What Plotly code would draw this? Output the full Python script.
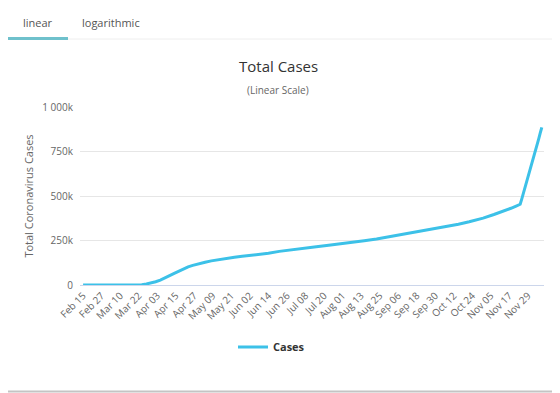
import plotly.graph_objects as go

# ---- data ----
dates = [
    "2020-02-15", "2020-03-10", "2020-03-15", "2020-03-18", "2020-03-21", "2020-03-24",
    "2020-03-27", "2020-03-30", "2020-04-02", "2020-04-05", "2020-04-08", "2020-04-11",
    "2020-04-14", "2020-04-17", "2020-04-20", "2020-04-23", "2020-04-26", "2020-04-30",
    "2020-05-04", "2020-05-08", "2020-05-13", "2020-05-18", "2020-05-23", "2020-05-28",
    "2020-06-02", "2020-06-07", "2020-06-14", "2020-06-21", "2020-06-30", "2020-07-08",
    "2020-07-15", "2020-07-23", "2020-07-31", "2020-08-08", "2020-08-15", "2020-08-23",
    "2020-08-31", "2020-09-07", "2020-09-15", "2020-09-22", "2020-09-30", "2020-10-07",
    "2020-10-15", "2020-10-22", "2020-10-31", "2020-11-07", "2020-11-12", "2020-11-15",
    "2020-11-18", "2020-11-21", "2020-11-24", "2020-11-25", "2020-11-26", "2020-11-27",
    "2020-11-28", "2020-11-29", "2020-11-30", "2020-12-01", "2020-12-02", "2020-12-03",
    "2020-12-04", "2020-12-05", "2020-12-06", "2020-12-07", "2020-12-08",
]
cases = [
    0, 0, 6, 191, 947, 1872,
    5698, 10827, 18135, 27069, 38226, 52167,
    65111, 78546, 90980, 101790, 110130, 120204,
    127659, 135569, 143114, 150593, 155686, 160979,
    165555, 170132, 178239, 188897, 199906, 208938,
    214993, 223315, 230873, 239622, 248117, 258249,
    270133, 281509, 295512, 306302, 318663, 328165,
    341000, 355000, 375367, 396000, 410000, 421413,
    431000, 442000, 453535, 482500, 512000, 542000,
    571500, 600500, 632000, 664500, 697000, 729500,
    760500, 791000, 821000, 854000, 886000,
]
ytick_vals = [0, 250000, 500000, 750000, 1000000]
ytick_text = ["0", "250k", "500k", "750k", "1 000k"]
series_name = "Cases"
title_text = "Total Cases"
subtitle_text = "(Linear Scale)"
ytitle = "Total Coronavirus Cases"
tabs = ["linear", "logarithmic"]

# ---- layout geometry (page pixels; the page body has an 8px margin) ----
OFF = 8
W, H = 560 - OFF, 393 - OFF
L, R, T, B = 80, 544, 107, 285  # plot area in page pixels


def px(x):
    return (x - L) / (R - L)


def py(y):
    return (B - y) / (B - T)


FONT = "Open Sans, Lato, sans-serif"
LINE = "#3cc1e8"

fig = go.Figure()
fig.add_trace(go.Scatter(
    x=dates, y=cases, mode="lines", name=series_name,
    line=dict(color=LINE, width=3),
    showlegend=True,
))

fig.update_layout(
    width=W, height=H,
    margin=dict(l=L - OFF, r=W - (R - OFF), t=T - OFF, b=H - (B - OFF)),
    paper_bgcolor="white", plot_bgcolor="white",
    font=dict(family=FONT, color="#666666", size=10),
    showlegend=True,
    legend=dict(
        orientation="h", x=px(233), xanchor="left", y=py(347), yanchor="middle",
        font=dict(family=FONT, size=11, color="#333333", weight="bold"),
        bgcolor="rgba(0,0,0,0)",
    ),
    xaxis=dict(
        type="date",
        range=["2020-02-13", "2020-12-09 10:00"],
        tick0="2020-02-15", dtick=12 * 86400000,
        tickformat="%b %d", tickangle=-45,
        tickfont=dict(size=10, color="#666666"),
        showgrid=False, zeroline=False,
        showline=True, linecolor="#ccd6eb", linewidth=1,
        ticks="", fixedrange=True,
    ),
    yaxis=dict(
        range=[0, 1000000],
        tickvals=ytick_vals, ticktext=ytick_text,
        tickfont=dict(size=10, color="#666666"),
        ticklabelstandoff=6,
        showgrid=True, gridcolor="#e6e6e6", gridwidth=1,
        zeroline=False, showline=False, ticks="",
        title=dict(text=ytitle, font=dict(size=11, color="#666666"), standoff=6),
        fixedrange=True,
    ),
)


def ann(text, x, y, size, color):
    return dict(text=text, x=px(x), y=py(y), xref="paper", yref="paper",
                xanchor="center", yanchor="middle", showarrow=False,
                font=dict(family=FONT, size=size, color=color))


annotations = [
    ann(title_text, 278, 66, 15, "#333333"),
    ann(subtitle_text, 278, 90, 10, "#666666"),
    ann(tabs[0], 38, 22, 11, "#555555"),
    ann(tabs[1], 111, 22, 11, "#555555"),
]
fig.update_layout(annotations=annotations)

shapes = [
    dict(type="line", xref="paper", yref="paper", x0=px(0), x1=px(556),
         y0=py(39), y1=py(39), line=dict(color="#eeeeee", width=1)),
    dict(type="line", xref="paper", yref="paper", x0=px(8), x1=px(68),
         y0=py(38.5), y1=py(38.5), line=dict(color="#6fc1cc", width=3)),
    dict(type="line", xref="paper", yref="paper", x0=px(556.5), x1=px(556.5),
         y0=py(8), y1=py(392), line=dict(color="#cfcfcf", width=1)),
    dict(type="line", xref="paper", yref="paper", x0=px(8), x1=px(560),
         y0=py(391.5), y1=py(391.5), line=dict(color="#c4c4c4", width=2)),
]
fig.update_layout(shapes=shapes)

fig.write_html("out.html")
